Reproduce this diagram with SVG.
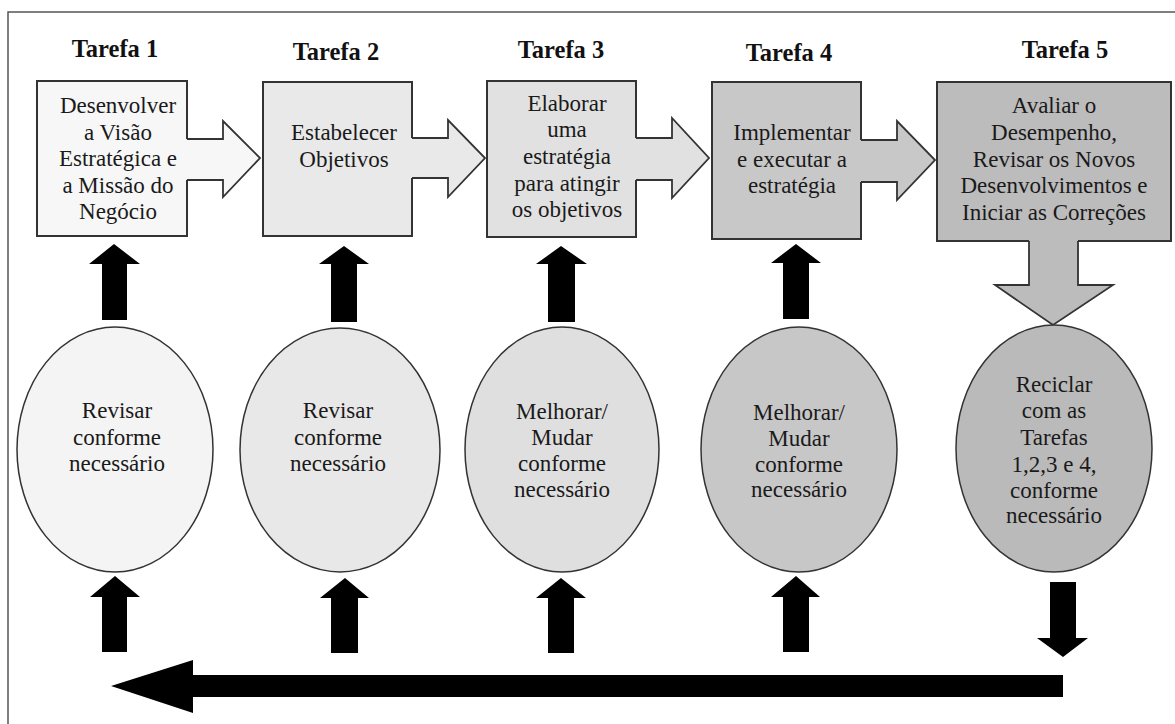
<svg xmlns="http://www.w3.org/2000/svg" width="1175" height="724" viewBox="0 0 1175 724">
<style>
.t{font-family:"Liberation Serif","Times New Roman",serif;font-size:23px;fill:#1a1a1a;text-anchor:middle}
.h{font-family:"Liberation Serif","Times New Roman",serif;font-size:24.5px;font-weight:bold;fill:#111;text-anchor:middle}
.box{stroke:#333;stroke-width:2}
.ell{stroke:#333;stroke-width:1.5}
.ol{fill:none;stroke:#333;stroke-width:1.8;stroke-linejoin:miter}
.blk{fill:#000}
</style>
<rect x="8" y="12" width="1200" height="800" fill="#fff" stroke="#555" stroke-width="1.5"/>

<g id="titles">
<text class="h" x="115" y="57">Tarefa 1</text>
<text class="h" x="336" y="60">Tarefa 2</text>
<text class="h" x="561" y="58">Tarefa 3</text>
<text class="h" x="789" y="61">Tarefa 4</text>
<text class="h" x="1065" y="58">Tarefa 5</text>
</g>

<g id="task1">
<rect class="box" x="37" y="81" width="150" height="155" fill="#f7f7f7"/>
<text class="t" x="118" y="113">Desenvolver</text>
<text class="t" x="118" y="140">a Visão</text>
<text class="t" x="118" y="166">Estratégica e</text>
<text class="t" x="118" y="193">a Missão do</text>
<text class="t" x="118" y="219">Negócio</text>
</g>

<g id="task2">
<rect class="box" x="263" y="82" width="149" height="154" fill="#e9e9e9"/>
<text class="t" x="344" y="140">Estabelecer</text>
<text class="t" x="344" y="167">Objetivos</text>
</g>

<g id="task3">
<rect class="box" x="487" y="81" width="149" height="156" fill="#e1e1e1"/>
<text class="t" x="567" y="111">Elaborar</text>
<text class="t" x="567" y="137">uma</text>
<text class="t" x="567" y="164">estratégia</text>
<text class="t" x="567" y="191">para atingir</text>
<text class="t" x="567" y="217">os objetivos</text>
</g>

<g id="task4">
<rect class="box" x="712" y="82" width="149" height="157" fill="#c8c8c8"/>
<text class="t" x="792" y="140">Implementar</text>
<text class="t" x="792" y="167">e executar a</text>
<text class="t" x="792" y="193">estratégia</text>
</g>

<g id="task5">
<rect class="box" x="937" y="82" width="234" height="159" fill="#bcbcbc"/>
<text class="t" x="1054" y="113">Avaliar o</text>
<text class="t" x="1054" y="140">Desempenho,</text>
<text class="t" x="1054" y="167">Revisar os Novos</text>
<text class="t" x="1054" y="193">Desenvolvimentos e</text>
<text class="t" x="1054" y="220">Iniciar as Correções</text>
</g>

<g id="connectors">
<!-- block arrows between tasks -->
<polygon points="185,139 223,139 223,121 260,158 223,197 223,180 185,180" fill="#f7f7f7"/>
<polyline class="ol" points="187,139 223,139 223,121 260,158 223,197 223,180 187,180"/>
<polygon points="410,138 448,138 448,120 485,158 448,197 448,178 410,178" fill="#e9e9e9"/>
<polyline class="ol" points="412,138 448,138 448,120 485,158 448,197 448,178 412,178"/>
<polygon points="634,138 672,138 672,118 709,158 672,198 672,180 634,180" fill="#e1e1e1"/>
<polyline class="ol" points="636,138 672,138 672,118 709,158 672,198 672,180 636,180"/>
<polygon points="859,140 897,140 897,121 935,160 897,200 897,182 859,182" fill="#c8c8c8"/>
<polyline class="ol" points="861,140 897,140 897,121 935,160 897,200 897,182 861,182"/>
<!-- down arrow from task 5 -->
<polygon points="1029,239 1029,285 995,285 1053,325 1113,285 1078,285 1078,239" fill="#bcbcbc"/>
<polyline class="ol" points="1029,241 1029,285 995,285 1053,325 1113,285 1078,285 1078,241"/>

<!-- upper up arrows -->
<polygon class="blk" points="102,320 102,264 89,264 114,244 140,264 127,264 127,320"/>
<polygon class="blk" points="331,322 331,264 319,264 344,246 369,264 357,264 357,322"/>
<polygon class="blk" points="548,322 548,264 536,264 561,246 587,264 575,264 575,322"/>
<polygon class="blk" points="783,319 783,263 771,263 796,244 821,263 809,263 809,319"/>

<!-- lower up arrows -->
<polygon class="blk" points="102,652 102,597 90,597 115,576 140,597 127,597 127,652"/>
<polygon class="blk" points="331,653 331,598 320,598 345,578 369,598 358,598 358,653"/>
<polygon class="blk" points="548,653 548,598 536,598 561,578 586,598 574,598 574,653"/>
<polygon class="blk" points="783,652 783,597 771,597 796,576 820,597 809,597 809,652"/>

<!-- down arrow from cycle ellipse -->
<polygon class="blk" points="1050,582 1076,582 1076,638 1088,638 1063,657 1037,638 1050,638"/>

<!-- big return arrow -->
<polygon class="blk" points="1063,675 1063,697 193,697 193,713 111,686 193,660 193,675"/>
</g>

<g id="rev1">
<ellipse class="ell" cx="115" cy="449.5" rx="98" ry="122.5" fill="#f4f4f4"/>
<text class="t" x="117" y="418">Revisar</text>
<text class="t" x="117" y="445">conforme</text>
<text class="t" x="117" y="471">necessário</text>
</g>

<g id="rev2">
<ellipse class="ell" cx="340" cy="450" rx="100" ry="122" fill="#e8e8e8"/>
<text class="t" x="338" y="418">Revisar</text>
<text class="t" x="338" y="445">conforme</text>
<text class="t" x="338" y="471">necessário</text>
</g>

<g id="rev3">
<ellipse class="ell" cx="562" cy="449.5" rx="97" ry="122.5" fill="#dfdfdf"/>
<text class="t" x="562" y="419">Melhorar/</text>
<text class="t" x="562" y="445">Mudar</text>
<text class="t" x="562" y="471">conforme</text>
<text class="t" x="562" y="497">necessário</text>
</g>

<g id="rev4">
<ellipse class="ell" cx="799" cy="449.5" rx="98" ry="122.5" fill="#c7c7c7"/>
<text class="t" x="799" y="420">Melhorar/</text>
<text class="t" x="799" y="446">Mudar</text>
<text class="t" x="799" y="472">conforme</text>
<text class="t" x="799" y="497">necessário</text>
</g>

<g id="rev5">
<ellipse class="ell" cx="1054" cy="448.5" rx="98" ry="123.5" fill="#bababa"/>
<text class="t" x="1054" y="392">Reciclar</text>
<text class="t" x="1054" y="418">com as</text>
<text class="t" x="1054" y="445">Tarefas</text>
<text class="t" x="1054" y="472">1,2,3 e 4,</text>
<text class="t" x="1054" y="498">conforme</text>
<text class="t" x="1054" y="523">necessário</text>
</g>
</svg>
